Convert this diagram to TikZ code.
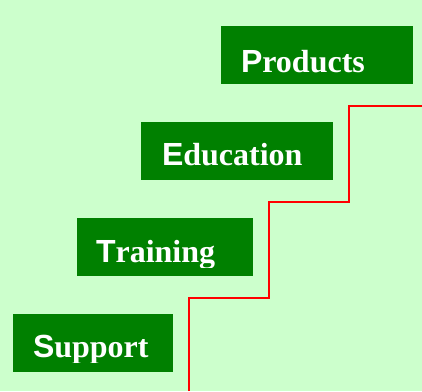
\documentclass[tikz,border=0pt]{standalone}
\usepackage{fontspec}
\setmainfont{Liberation Serif}
\newfontfamily\capfont{Liberation Sans}
\usepackage{xcolor}
\usetikzlibrary{positioning}

\definecolor{bgmint}{HTML}{CCFFCC}
\definecolor{boxgreen}{HTML}{008000}
\definecolor{stairred}{HTML}{FF0000}

\newcommand{\capword}[2]{{\capfont\bfseries #1}\textbf{#2}}

\begin{document}
\begin{tikzpicture}[
  x=1pt, y=1pt,
  stepbox/.style={fill=boxgreen, minimum height=58pt, inner sep=0pt},
  word/.style={text=white, inner sep=0pt, anchor=base west, font=\fontsize{32}{32}\selectfont}
]
% Background
\fill[bgmint] (0,0) rectangle (422,391);
\useasboundingbox (0,0) rectangle (422,391);

% Green boxes, one per step
\node[stepbox, minimum width=192pt] (prod) at (317, 336) {};
\node[stepbox, minimum width=192pt] (edu) at (237, 240) {};
\node[stepbox, minimum width=176pt] (train) at (165, 144) {};
\node[stepbox, minimum width=160pt] (supp) at (93, 48) {};

% Labels (cut off a little below the baseline)
\begin{scope}
  \clip (prod.north west) rectangle ([yshift=7pt]prod.south east);
  \node[word] (prodtxt) at ([shift={(20,12)}]prod.south west) {\capword{P}{roducts}};
\end{scope}
\begin{scope}
  \clip (edu.north west) rectangle ([yshift=10pt]edu.south east);
  \node[word] (edutxt) at ([shift={(21,15)}]edu.south west) {\capword{E}{ducation}};
\end{scope}
\begin{scope}
  \clip (train.north west) rectangle ([yshift=9pt]train.south east);
  \node[word] (traintxt) at ([shift={(19,14)}]train.south west) {\capword{T}{raining}};
\end{scope}
\begin{scope}
  \clip (supp.north west) rectangle ([yshift=10pt]supp.south east);
  \node[word] (supptxt) at ([shift={(20,15)}]supp.south west) {\capword{S}{upport}};
\end{scope}

% Staircase
\draw[stairred, line width=2pt] (188.7,0) |- (268.7,93.3) |- (349,189.3) |- (422,285);

\end{tikzpicture}
\end{document}
